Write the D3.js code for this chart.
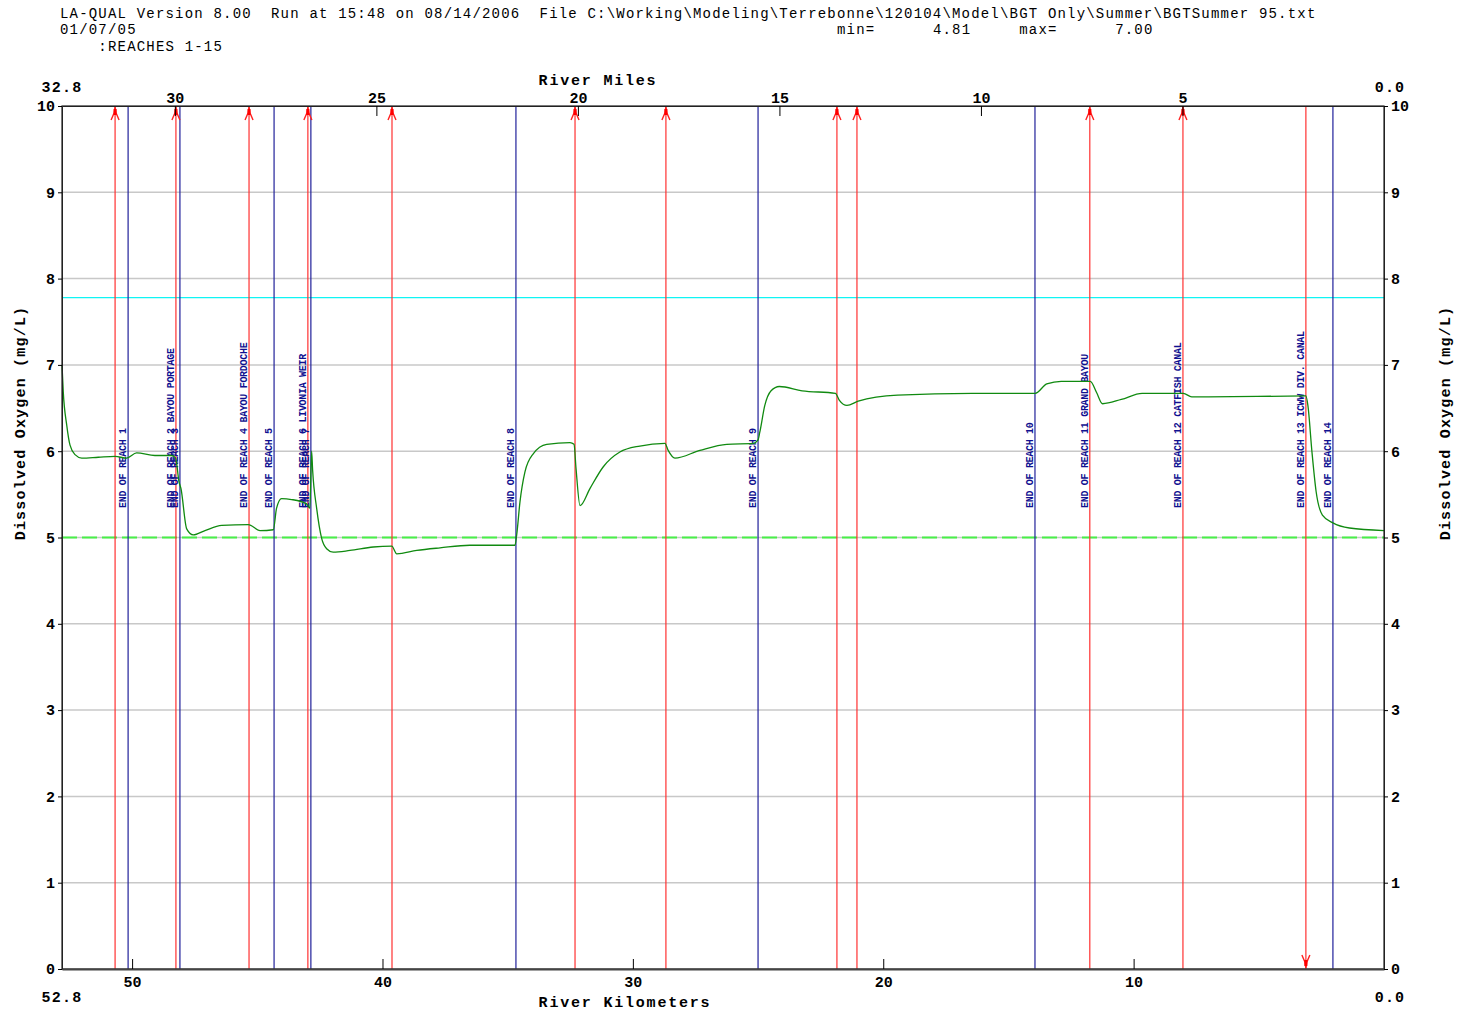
<!DOCTYPE html>
<html>
<head>
<meta charset="utf-8">
<script src="https://cdn.jsdelivr.net/npm/d3@7"></script>
<style>
  body { margin: 0; background: #fff; }
  svg text { white-space: pre; }
</style>
</head>
<body>
<div id="chart"></div>
<script>
// header lines of the LA-QUAL plot
const headerLines = [
  "LA-QUAL Version 8.00  Run at 15:48 on 08/14/2006  File C:\\Working\\Modeling\\Terrebonne\\120104\\Model\\BGT Only\\Summer\\BGTSummer 95.txt",
  "01/07/05",
  "    :REACHES 1-15"
];
const minMaxText = "min=      4.81     max=      7.00";

// predicted dissolved oxygen along the river (km, mg/L)
const doKm = [52.8, 52.75, 52.61, 52.48, 52.28, 52.01, 51.35, 50.68, 50.22, 49.82, 49.09, 48.42, 48.26, 48.13, 48.05,
  47.82, 47.56, 47.09, 46.42, 45.36, 44.89, 44.36, 44.23, 44.03, 43.63, 43.03, 42.90, 42.83, 42.79, 42.63,
  42.43, 42.23, 41.97, 41.30, 40.37, 39.63, 39.43, 38.63, 37.70, 36.51, 34.71, 34.64, 34.51, 34.31, 33.98,
  33.44, 32.51, 32.35, 32.27, 32.11, 31.71, 31.18, 30.52, 29.72, 28.72, 28.59, 28.32, 27.32, 26.25, 25.19,
  25.00, 24.93, 24.73, 24.48, 24.15, 23.24, 21.91, 21.75, 21.45, 21.00, 19.43, 16.45, 13.93, 13.47, 12.89,
  11.73, 11.48, 11.24, 10.49, 9.66, 8.01, 7.68, 7.01, 3.12, 3.04, 2.88, 2.71, 2.46, 2.04, 1.38, 0.0];
const doVal = [7.00, 6.69, 6.30, 6.07, 5.96, 5.92, 5.93, 5.94, 5.92, 5.98, 5.95, 5.95, 5.92, 5.65, 5.57,
  5.10, 5.03, 5.08, 5.14, 5.15, 5.08, 5.09, 5.34, 5.45, 5.44, 5.39, 5.34, 6.00, 5.78, 5.34,
  4.99, 4.87, 4.83, 4.85, 4.89, 4.90, 4.81, 4.85, 4.88, 4.91, 4.91, 5.03, 5.41, 5.76, 5.97,
  6.08, 6.10, 6.08, 5.80, 5.37, 5.57, 5.82, 5.99, 6.06, 6.09, 6.01, 5.92, 6.01, 6.08, 6.09,
  6.13, 6.22, 6.53, 6.70, 6.75, 6.70, 6.67, 6.59, 6.53, 6.58, 6.65, 6.67, 6.67, 6.78, 6.81,
  6.81, 6.68, 6.55, 6.60, 6.67, 6.67, 6.63, 6.63, 6.64, 6.53, 6.00, 5.53, 5.26, 5.17, 5.11, 5.08];

// end of reach boundaries (blue) and inputs/withdrawals (red)
const reachEndKm = [50.16, 48.09, 44.33, 42.86, 34.67, 25.00, 13.94, 2.04];
const inflowKm = [50.68, 48.25, 45.33, 42.98, 39.62, 32.31, 28.68, 21.85, 21.05, 11.75, 8.03, 3.12];
const inflowDir = ["up", "up", "up", "up", "up", "up", "up", "up", "up", "up", "up", "down"];

const labelKm = [50.16, 48.25, 48.09, 45.33, 44.33, 42.98, 42.86, 34.67, 25.00, 13.94, 11.75, 8.03, 3.12, 2.04];
const labelText = ["END OF REACH 1", "END OF REACH 2 BAYOU PORTAGE", "END OF REACH 3",
  "END OF REACH 4 BAYOU FORDOCHE", "END OF REACH 5", "END OF REACH 6 LIVONIA WEIR", "END OF REACH 7",
  "END OF REACH 8", "END OF REACH 9", "END OF REACH 10", "END OF REACH 11 GRAND BAYOU",
  "END OF REACH 12 CATFISH CANAL", "END OF REACH 13 ICWW DIV. CANAL", "END OF REACH 14"];

// reference levels
const criterionDO = 5.0;
const saturationDO = 7.78;

const kmTicks = [50, 40, 30, 20, 10];
const mileTicks = [30, 25, 20, 15, 10, 5];
const doTicks = [0, 1, 2, 3, 4, 5, 6, 7, 8, 9, 10];

const W = 1457, H = 1014;
const pL = 62, pR = 1384, pT = 106, pB = 969;

const svg = d3.select("#chart").append("svg")
  .attr("width", W).attr("height", H)
  .style("font-family", "'Liberation Mono', monospace");

const x = d3.scaleLinear().domain([52.8, 0]).range([pL, pR]);
const xMi = d3.scaleLinear().domain([32.8, 0]).range([pL, pR]);
const y = d3.scaleLinear().domain([0, 10]).range([pB, pT]);

// header
svg.append("g").selectAll("text")
  .data(headerLines)
  .join("text")
    .attr("x", 60)
    .attr("y", (d, i) => [18, 34, 51][i])
    .attr("font-size", 14)
    .attr("letter-spacing", 1.19)
    .text(d => d);
svg.append("text")
  .attr("x", 837).attr("y", 34)
  .attr("font-size", 14).attr("letter-spacing", 1.19)
  .text(minMaxText);

// grid
svg.append("g").selectAll("line")
  .data(doTicks.slice(1, 10))
  .join("line")
    .attr("x1", pL).attr("x2", pR)
    .attr("y1", d => y(d)).attr("y2", d => y(d))
    .attr("stroke", "#c8c8c8").attr("stroke-width", 1.5);

// saturation line and criterion line
svg.append("line")
  .attr("x1", pL).attr("x2", pR)
  .attr("y1", y(saturationDO)).attr("y2", y(saturationDO))
  .attr("stroke", "#10f4f4").attr("stroke-width", 1.4);
svg.append("line")
  .attr("x1", pL).attr("x2", pR)
  .attr("y1", y(criterionDO)).attr("y2", y(criterionDO))
  .attr("stroke", "#48f048").attr("stroke-width", 2)
  .attr("stroke-dasharray", "15,5");

// reach ends
svg.append("g").selectAll("line")
  .data(reachEndKm)
  .join("line")
    .attr("x1", d => x(d)).attr("x2", d => x(d))
    .attr("y1", pT).attr("y2", pB)
    .attr("stroke", "#20209a").attr("stroke-width", 1.2);

// inflow lines with arrows
const inflow = svg.append("g");
inflow.selectAll("line")
  .data(inflowKm)
  .join("line")
    .attr("x1", d => x(d)).attr("x2", d => x(d))
    .attr("y1", pT).attr("y2", pB)
    .attr("stroke", "#ff3030").attr("stroke-width", 1.2);
inflow.selectAll("path")
  .data(inflowKm)
  .join("path")
    .attr("d", (d, i) => {
      const px = x(d);
      if (inflowDir[i] === "up") {
        const t = pT + 1;
        return `M${px - 4},${t + 13} L${px - 1},${t + 6} L${px},${t} L${px + 1},${t + 6} L${px + 4},${t + 13}`;
      }
      const b = pB - 1;
      return `M${px - 4},${b - 13} L${px - 1},${b - 6} L${px},${b} L${px + 1},${b - 6} L${px + 4},${b - 13}`;
    })
    .attr("fill", "none")
    .attr("stroke", "#ff2020").attr("stroke-width", 1.4);
inflow.selectAll("rect")
  .data(inflowKm)
  .join("rect")
    .attr("x", d => x(d) - 1.5).attr("width", 3)
    .attr("y", (d, i) => inflowDir[i] === "up" ? pT + 3 : pB - 9)
    .attr("height", 6)
    .attr("fill", "#ff0000");

// reach labels
svg.append("g").selectAll("text")
  .data(labelKm)
  .join("text")
    .attr("transform", d => `translate(${x(d) - 2},508) rotate(-90)`)
    .attr("font-size", 10)
    .attr("letter-spacing", -0.3)
    .attr("font-weight", "bold")
    .attr("fill", "#101090")
    .text((d, i) => labelText[i]);

// DO profile
const line = d3.line()
  .x(d => x(d[0]))
  .y(d => y(d[1]))
  .curve(d3.curveMonotoneX);
svg.append("path")
  .datum(doKm.map((k, i) => [k, doVal[i]]))
  .attr("d", line)
  .attr("fill", "none")
  .attr("stroke", "#108a10")
  .attr("stroke-width", 1.3);

// frame
svg.append("rect")
  .attr("x", pL).attr("y", pT)
  .attr("width", pR - pL).attr("height", pB - pT)
  .attr("fill", "none").attr("stroke", "#222").attr("stroke-width", 1.2);

const tickFont = g => g.selectAll("text")
  .attr("font-family", "'Liberation Mono', monospace")
  .attr("font-size", 15).attr("font-weight", "bold")
  .attr("fill", "#000");

// kilometers at the bottom
svg.append("g")
  .attr("transform", `translate(0,${pB})`)
  .call(d3.axisBottom(x).tickValues(kmTicks).tickSize(-10).tickSizeOuter(0).tickPadding(7).tickFormat(d3.format("d")))
  .call(g => g.select(".domain").attr("stroke", "#444").attr("stroke-width", 2))
  .call(tickFont);

// miles at the top
svg.append("g")
  .attr("transform", `translate(0,${pT})`)
  .call(d3.axisTop(xMi).tickValues(mileTicks).tickSize(-10).tickSizeOuter(0).tickPadding(3).tickFormat(d3.format("d")))
  .call(g => g.select(".domain").attr("stroke", "#222"))
  .call(tickFont);

// DO axes
svg.append("g")
  .attr("transform", `translate(${pL},0)`)
  .call(d3.axisLeft(y).tickValues(doTicks).tickSize(4).tickSizeOuter(0).tickPadding(3).tickFormat(d3.format("d")))
  .call(g => g.select(".domain").attr("stroke", "#222"))
  .call(tickFont);
svg.append("g")
  .attr("transform", `translate(${pR},0)`)
  .call(d3.axisRight(y).tickValues(doTicks).tickSize(4).tickSizeOuter(0).tickPadding(3).tickFormat(d3.format("d")))
  .call(g => g.select(".domain").attr("stroke", "#222"))
  .call(tickFont);

// axis end values and titles
const bold = sel => sel.attr("font-size", 15).attr("font-weight", "bold").attr("letter-spacing", 1.2);
svg.append("text").attr("x", pL).attr("y", 92).attr("text-anchor", "middle").call(bold).text("32.8");
svg.append("text").attr("x", 1390).attr("y", 92).attr("text-anchor", "middle").call(bold).text("0.0");
svg.append("text").attr("x", pL).attr("y", 1002).attr("text-anchor", "middle").call(bold).text("52.8");
svg.append("text").attr("x", 1390).attr("y", 1002).attr("text-anchor", "middle").call(bold).text("0.0");

svg.append("text").attr("x", 598).attr("y", 85).attr("text-anchor", "middle").call(bold)
  .attr("letter-spacing", 1.8).text("River Miles");
svg.append("text").attr("x", 625).attr("y", 1007).attr("text-anchor", "middle").call(bold)
  .attr("letter-spacing", 1.8).text("River Kilometers");

svg.append("text")
  .attr("transform", `translate(25,423) rotate(-90)`)
  .attr("text-anchor", "middle").call(bold).attr("letter-spacing", 1.2)
  .text("Dissolved Oxygen (mg/L)");
svg.append("text")
  .attr("transform", `translate(1450,423) rotate(-90)`)
  .attr("text-anchor", "middle").call(bold).attr("letter-spacing", 1.2)
  .text("Dissolved Oxygen (mg/L)");
</script>
</body>
</html>
